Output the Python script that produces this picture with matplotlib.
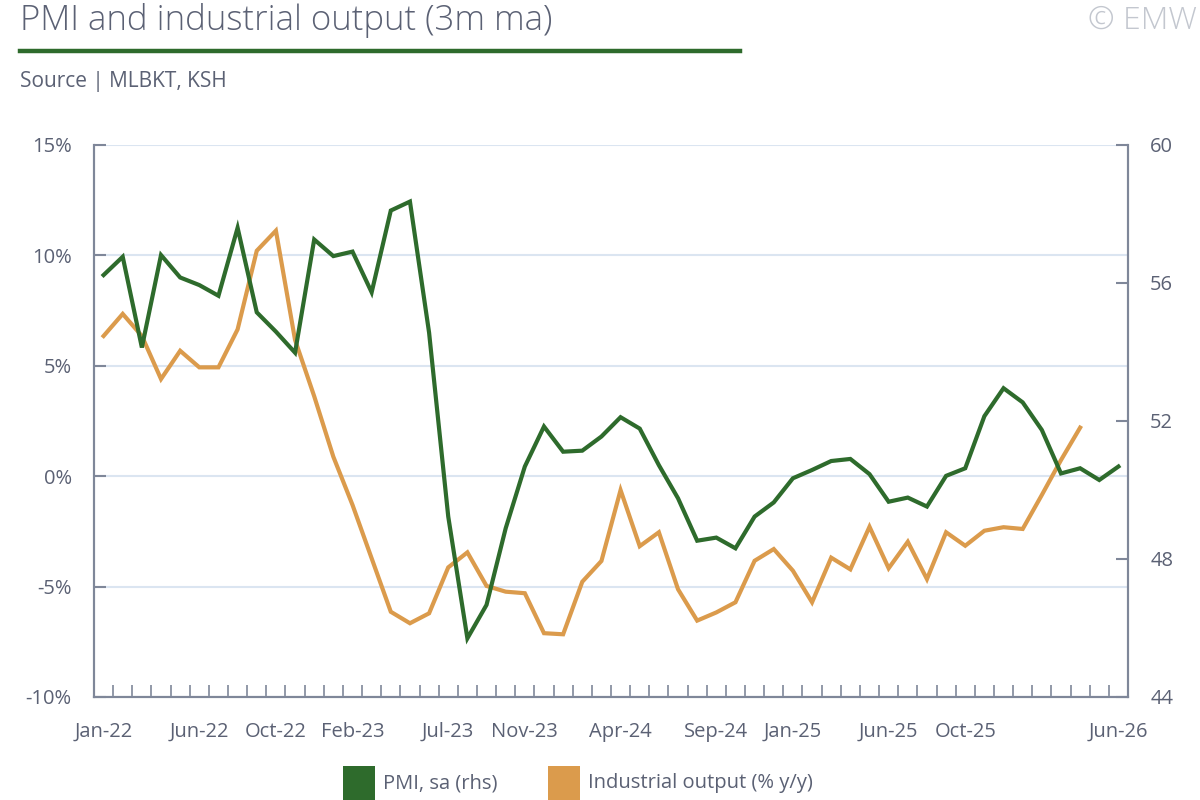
import matplotlib
matplotlib.use("Agg")
import matplotlib.pyplot as plt
from matplotlib.patches import Rectangle
from matplotlib.lines import Line2D
import numpy as np

plt.rcParams['font.family'] = ['Open Sans', 'DejaVu Sans']

months = ["Jan-22","Feb-22","Mar-22","Apr-22","May-22","Jun-22","Jul-22","Aug-22","Sep-22","Oct-22","Nov-22","Dec-22",
          "Jan-23","Feb-23","Mar-23","Apr-23","May-23","Jun-23","Jul-23","Aug-23","Sep-23","Oct-23","Nov-23","Dec-23",
          "Jan-24","Feb-24","Mar-24","Apr-24","May-24","Jun-24","Jul-24","Aug-24","Sep-24","Oct-24","Nov-24","Dec-24",
          "Jan-25","Feb-25","Mar-25","Apr-25","May-25","Jun-25","Jul-25","Aug-25","Sep-25","Oct-25","Nov-25","Dec-25",
          "Jan-26","Feb-26","Mar-26","Apr-26","May-26","Jun-26"]

pmi = [56.23, 56.76, 54.13, 56.81, 56.16, 55.94, 55.63, 57.60, 55.15, 54.59, 53.98, 57.26,
       56.78, 56.91, 55.73, 58.10, 58.36, 54.56, 49.23, 45.70, 46.67, 48.89, 50.68, 51.84,
       51.11, 51.14, 51.55, 52.11, 51.78, 50.72, 49.76, 48.53, 48.62, 48.31, 49.23, 49.64,
       50.34, 50.58, 50.84, 50.90, 50.46, 49.66, 49.78, 49.52, 50.41, 50.63, 52.14, 52.95,
       52.54, 51.74, 50.48, 50.63, 50.29, 50.68]

industrial = [6.35, 7.35, 6.35, 4.40, 5.68, 4.93, 4.93, 6.65, 10.21, 11.12, 6.17, 3.62,
              0.88, -1.30, -3.72, -6.14, -6.66, -6.21, -4.13, -3.45, -4.97, -5.23, -5.30, -7.11,
              -7.16, -4.78, -3.84, -0.63, -3.17, -2.54, -5.12, -6.54, -6.17, -5.71, -3.83, -3.30,
              -4.28, -5.71, -3.69, -4.22, -2.29, -4.17, -2.97, -4.66, -2.54, -3.15, -2.47, -2.31,
              -2.39, -0.85, 0.73, 2.20]

label_months = ["Jan-22","Jun-22","Oct-22","Feb-23","Jul-23","Nov-23","Apr-24","Sep-24",
                "Jan-25","Jun-25","Oct-25","Jun-26"]

series_names = ["PMI, sa (rhs)", "Industrial output (% y/y)"]

left_ticks = [-10, -5, 0, 5, 10, 15]
right_ticks = [44, 48, 52, 56, 60]

GREEN = "#2e6b2c"
ORANGE = "#db9b4c"
AXC = "#7f8799"
TXT = "#5b6174"
GRID = "#dbe5f1"
FS = 14.5

W, H = 1200, 800
fig = plt.figure(figsize=(12, 8), dpi=100)
ax = fig.add_axes([94/W, 1-697/H, (1128-94)/W, (697-145)/H])
ax2 = ax.twinx()

x = np.arange(len(months))
ax2.plot(x[:len(pmi)], pmi, color=GREEN, lw=3, solid_joinstyle='miter', zorder=3)
ax.plot(x[:len(industrial)], industrial, color=ORANGE, lw=3, solid_joinstyle='miter', zorder=3)

ax.set_xlim(-0.5, len(months) - 0.5)
ax.set_ylim(-10, 15)
ax2.set_ylim(44, 60)

ax.set_yticks(left_ticks)
ax.set_yticklabels([f"{v}%" for v in left_ticks])
ax2.set_yticks(right_ticks)
ax2.set_yticklabels([str(v) for v in right_ticks])

ax.set_xticks([months.index(m) for m in label_months])
ax.set_xticklabels(label_months)
ax.set_xticks(np.arange(-0.5, len(months), 1.0), minor=True)

ax.grid(axis='y', color=GRID, lw=1.5, zorder=0)
ax.set_axisbelow(True)

for a in (ax, ax2):
    a.spines['top'].set_visible(False)
    for s in ('left', 'right', 'bottom'):
        a.spines[s].set_color(AXC)
        a.spines[s].set_linewidth(1.5)

ax.tick_params(axis='x', which='major', length=0, pad=18, labelsize=FS, labelcolor=TXT)
ax.tick_params(axis='x', which='minor', direction='in', length=9, width=1.2, color=AXC)
ax.tick_params(axis='y', direction='in', length=8.5, width=1.5, color=AXC, pad=16,
               labelsize=FS, labelcolor=TXT)
ax2.tick_params(axis='y', direction='in', length=8.5, width=1.5, color=AXC, pad=16,
                labelsize=FS, labelcolor=TXT)

# Title, rule, source, copyright
fig.text(20/W, 1-21/H, "PMI and industrial output (3m ma)", fontsize=25, color=TXT,
         ha='left', va='center', fontweight='light')
fig.add_artist(Line2D([20/W, 740/W], [1-51/H, 1-51/H], color=GREEN, lw=3.2))
fig.text(20/W, 1-81/H, "Source | MLBKT, KSH", fontsize=15, color=TXT, ha='left', va='center')
fig.text(1197/W, 1-21/H, "© EMW", fontsize=23, color="#c3c7cf", ha='right', va='center',
         fontweight='light')

# Legend (square swatches + labels)
swatch_x = [343, 548]
for sx, col, name in zip(swatch_x, [GREEN, ORANGE], series_names):
    fig.add_artist(Rectangle((sx/W, 1-800/H), 32/W, 34/H, transform=fig.transFigure,
                             facecolor=col, edgecolor='none'))
    fig.text((sx+40)/W, 1-783/H, name, fontsize=FS, color=TXT, ha='left', va='center')

fig.savefig("out.png", dpi=100)
